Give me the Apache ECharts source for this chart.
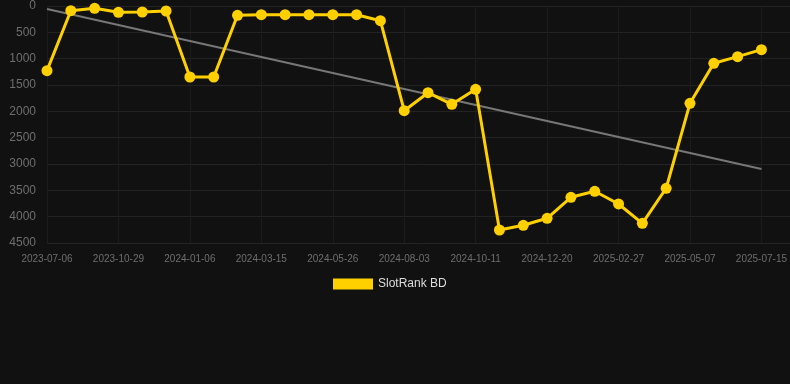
<!DOCTYPE html>
<html>
<head>
<meta charset="utf-8">
<script src="https://cdn.jsdelivr.net/npm/echarts@6/dist/echarts.min.js"></script>
<style>
    html, body { margin: 0; padding: 0; background: #111111; }
    #chart_main { width: 790px; height: 384px; }
</style>
</head>
<body>
<div id="chart_main"></div>
<script>
// dates (category axis, label every 3rd)
var dates = [
    '2023-07-06', '2023-08-13', '2023-09-21', '2023-10-29', '2023-11-21', '2023-12-14',
    '2024-01-06', '2024-01-29', '2024-02-21', '2024-03-15', '2024-04-08', '2024-05-02',
    '2024-05-26', '2024-06-18', '2024-07-11', '2024-08-03', '2024-08-26', '2024-09-18',
    '2024-10-11', '2024-11-03', '2024-11-26', '2024-12-20', '2025-01-12', '2025-02-04',
    '2025-02-27', '2025-03-22', '2025-04-14', '2025-05-07', '2025-05-30', '2025-06-22',
    '2025-07-15'
];

// rank values
var rankBD = [
    1228, 89, 44, 120, 114, 95,
    1348, 1348, 177, 165, 165, 165,
    165, 165, 279, 1988, 1646, 1867,
    1582, 4253, 4164, 4031, 3632, 3518,
    3759, 4126, 3461, 1848, 1088, 962,
    829
];

// trend line end points
var trendEnds = [57, 3095];

var yTicks = { min: 0, max: 4500, interval: 500 };

var trendData = [];
for (var i = 0; i < dates.length; i++) {
    trendData.push(null);
}
trendData[0] = trendEnds[0];
trendData[dates.length - 1] = trendEnds[1];

var chart_Main = echarts.init(document.getElementById('chart_main'));

var option = {
    backgroundColor: '#111111',
    animation: false,
    textStyle: { fontFamily: 'Liberation Sans, Arial, sans-serif' },
    grid: [
        { left: 47, right: 28, top: 6, bottom: 141 },
        //背景网格线延伸到右边
        { left: 47, right: 0, top: 6, bottom: 141 }
    ],
    legend: {
        top: 273,
        left: 328,
        itemWidth: 40,
        itemHeight: 11,
        itemGap: 6,
        icon: 'rect',
        data: ['SlotRank BD'],
        textStyle: { color: '#dddddd', fontSize: 12 }
    },
    xAxis: [
        {
            type: 'category',
            gridIndex: 0,
            boundaryGap: false,
            data: dates,
            axisLine: { show: false },
            axisTick: { show: false },
            axisLabel: {
                interval: 2,
                color: '#6e6e6e',
                fontSize: 10,
                margin: 11
            },
            splitLine: {
                show: true,
                interval: 2,
                lineStyle: { color: '#1c1c1c', width: 1 }
            }
        },
        {
            type: 'value',
            gridIndex: 1,
            show: false
        }
    ],
    yAxis: [
        {
            type: 'value',
            gridIndex: 0,
            inverse: true,
            min: yTicks.min,
            max: yTicks.max,
            interval: yTicks.interval,
            axisLine: { show: false },
            axisTick: { show: false },
            axisLabel: {
                color: '#6e6e6e',
                fontSize: 12,
                margin: 11,
                formatter: function (v) { return String(v); }
            },
            splitLine: { show: false }
        },
        {
            type: 'value',
            gridIndex: 1,
            inverse: true,
            min: yTicks.min,
            max: yTicks.max,
            interval: yTicks.interval,
            axisLine: { show: false },
            axisTick: { show: false },
            axisLabel: { show: false },
            splitLine: {
                show: true,
                lineStyle: { color: '#232323', width: 1 }
            }
        }
    ],
    series: [
        {
            name: 'trend',
            type: 'line',
            xAxisIndex: 0,
            yAxisIndex: 0,
            data: trendData,
            connectNulls: true,
            showSymbol: false,
            symbol: 'none',
            silent: true,
            lineStyle: { color: '#777777', width: 2 },
            z: 3
        },
        {
            name: 'SlotRank BD',
            type: 'line',
            xAxisIndex: 0,
            yAxisIndex: 0,
            data: rankBD,
            symbol: 'circle',
            symbolSize: 11,
            itemStyle: { color: '#ffd000' },
            lineStyle: { color: '#ffd000', width: 3 },
            z: 4
        }
    ]
};

chart_Main.setOption(option);
</script>
</body>
</html>
